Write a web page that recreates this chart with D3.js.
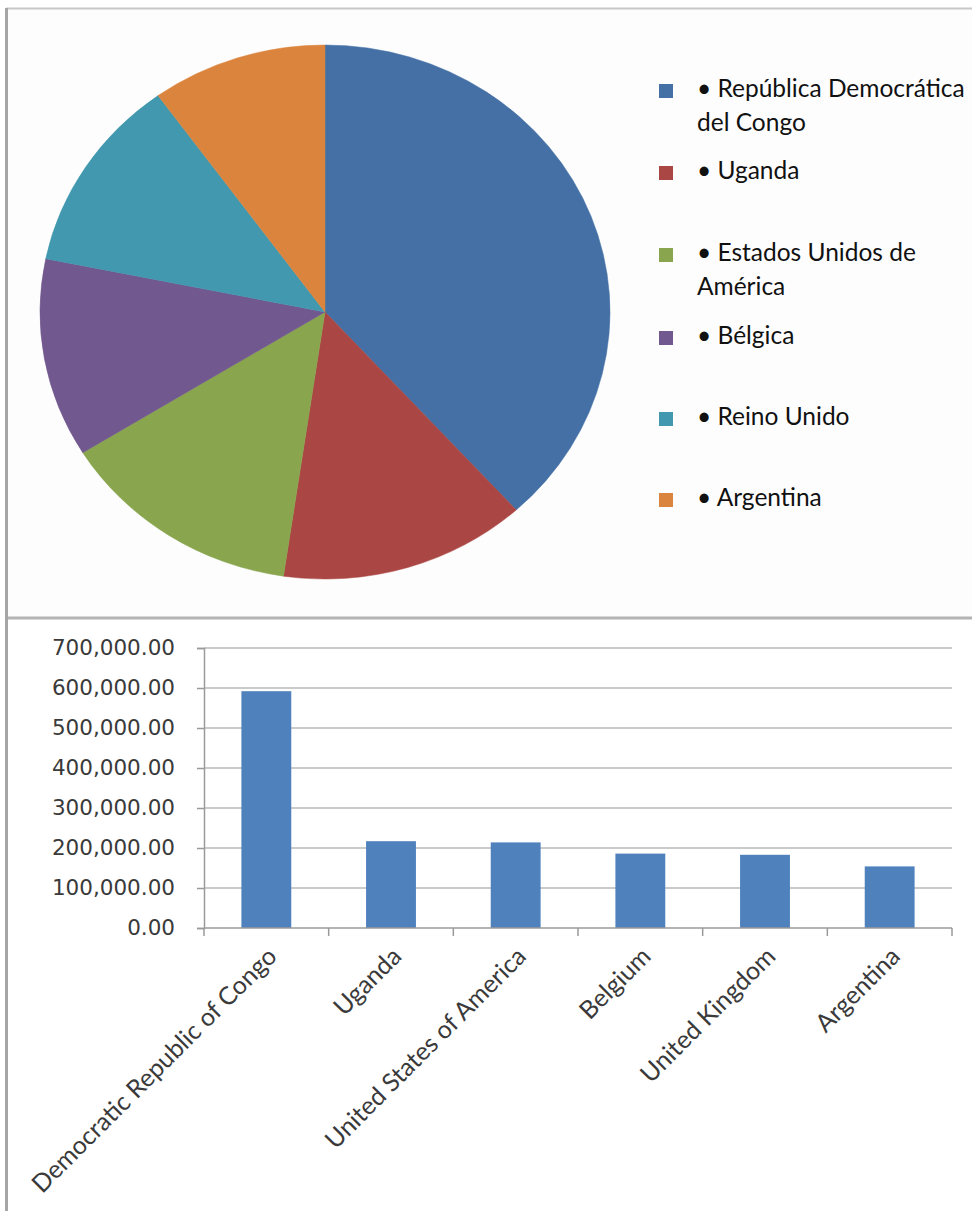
<!DOCTYPE html>
<html>
<head>
<meta charset="utf-8">
<script src="https://cdn.jsdelivr.net/npm/d3@7"></script>
<style>
  html, body { margin: 0; padding: 0; background: #fff; }
  svg { display: block; }
</style>
</head>
<body>
<script>
// ---- data ----
const pieLabels = ["República Democrática del Congo", "Uganda", "Estados Unidos de América", "Bélgica", "Reino Unido", "Argentina"];
const legendLines = [["• República Democrática", "del Congo"], ["• Uganda"], ["• Estados Unidos de", "América"], ["• Bélgica"], ["• Reino Unido"], ["• Argentina"]];
const barCategories = ["Democratic Republic of Congo", "Uganda", "United States of America", "Belgium", "United Kingdom", "Argentina"];
const values = [592000, 217000, 214000, 186000, 183000, 154000];
const pieColors = ["#4470A6", "#AA4643", "#89A54E", "#71588F", "#4198AF", "#DB843D"];
const barColor = "#4F81BD";
const yTicks = [0, 100000, 200000, 300000, 400000, 500000, 600000, 700000];

const W = 972, H = 1211;
const svg = d3.select("body").append("svg").attr("width", W).attr("height", H);
svg.append("rect").attr("width", W).attr("height", H).attr("fill", "#fff");

// panel frames
svg.append("rect").attr("x", 7).attr("y", 8).attr("width", W).attr("height", 610).attr("fill", "#fdfdfd");
svg.append("line").attr("x1", 6).attr("x2", W).attr("y1", 8.5).attr("y2", 8.5).attr("stroke", "#c8c8c8").attr("stroke-width", 2);
svg.append("line").attr("x1", 6).attr("x2", W).attr("y1", 618).attr("y2", 618).attr("stroke", "#b4b4b4").attr("stroke-width", 3);
svg.append("line").attr("x1", 6.5).attr("x2", 6.5).attr("y1", 8).attr("y2", H).attr("stroke", "#a6a6a6").attr("stroke-width", 3);

// ---- pie ----
const cx = 325, cy = 312, ry = 267, rx = 285;
const pie = d3.pie().sort(null).value(d => d)(values);
const arc = d3.arc().innerRadius(0).outerRadius(ry);
const pg = svg.append("g").attr("transform", `translate(${cx},${cy}) scale(${rx / ry},1)`);
pg.selectAll("path").data(pie).join("path")
  .attr("d", arc)
  .attr("fill", (d, i) => pieColors[i])
  .attr("stroke", (d, i) => pieColors[i])
  .attr("stroke-width", 0.5);

// legend
const legendRowsY = [91, 173, 255, 338, 419, 500];
const lg = svg.append("g");
legendLines.forEach((lines, i) => {
  const y = legendRowsY[i];
  lg.append("rect").attr("x", 659).attr("y", y - 7).attr("width", 14).attr("height", 14).attr("fill", pieColors[i]);
  const t = lg.append("text")
    .attr("x", 697).attr("y", y + 6)
    .attr("font-family", "Lato, 'Open Sans', sans-serif")
    .attr("font-size", 24.5)
    .attr("fill", "#111");
  lines.forEach((ln, j) => {
    t.append("tspan").attr("x", 697).attr("dy", j === 0 ? 0 : 34).text(ln);
  });
});

// ---- bar chart ----
const x0 = 204, x1 = 952, yTop = 648, yBot = 928;
const x = d3.scaleBand().domain(barCategories).range([x0, x1]).paddingInner(0.6).paddingOuter(0.3);
const y = d3.scaleLinear().domain([0, 700000]).range([yBot, yTop]);

// gridlines
svg.append("g").selectAll("line").data(yTicks.slice(1)).join("line")
  .attr("x1", x0).attr("x2", x1)
  .attr("y1", d => y(d)).attr("y2", d => y(d))
  .attr("stroke", "#b8b8b8").attr("stroke-width", 1.5);

// y axis
const yAxis = svg.append("g").attr("transform", `translate(${x0},0)`)
  .call(d3.axisLeft(y).tickValues(yTicks).tickSize(7).tickPadding(22)
    .tickFormat(d => d3.format(",.2f")(d)));
yAxis.select(".domain").attr("stroke", "#9a9a9a").attr("stroke-width", 1.5);
yAxis.selectAll(".tick line").attr("stroke", "#9a9a9a").attr("stroke-width", 1.5);
yAxis.selectAll(".tick text")
  .attr("font-family", "'DejaVu Sans', sans-serif")
  .attr("font-size", 21.5)
  .attr("fill", "#3a3a3a");

// bars
svg.append("g").selectAll("rect").data(values).join("rect")
  .attr("x", (d, i) => x(barCategories[i]))
  .attr("width", x.bandwidth())
  .attr("y", d => y(d))
  .attr("height", d => yBot - y(d))
  .attr("fill", barColor);

// x axis
const xb = d3.scaleLinear().domain([0, 6]).range([x0, x1]);
const xAxisG = svg.append("g");
xAxisG.append("line").attr("x1", x0).attr("x2", x1).attr("y1", yBot).attr("y2", yBot)
  .attr("stroke", "#9a9a9a").attr("stroke-width", 1.5);
xAxisG.selectAll("line.tk").data(d3.range(0, 7)).join("line").attr("class", "tk")
  .attr("x1", d => xb(d)).attr("x2", d => xb(d))
  .attr("y1", yBot).attr("y2", yBot + 8)
  .attr("stroke", "#9a9a9a").attr("stroke-width", 1.5);
xAxisG.selectAll("text").data(barCategories).join("text")
  .attr("transform", d => `translate(${x(d) + x.bandwidth() / 2 + 12},${yBot + 30}) rotate(-45)`)
  .attr("text-anchor", "end")
  .attr("font-family", "Lato, 'Open Sans', sans-serif")
  .attr("font-size", 25)
  .attr("fill", "#3a3a3a")
  .text(d => d);
</script>
</body>
</html>
